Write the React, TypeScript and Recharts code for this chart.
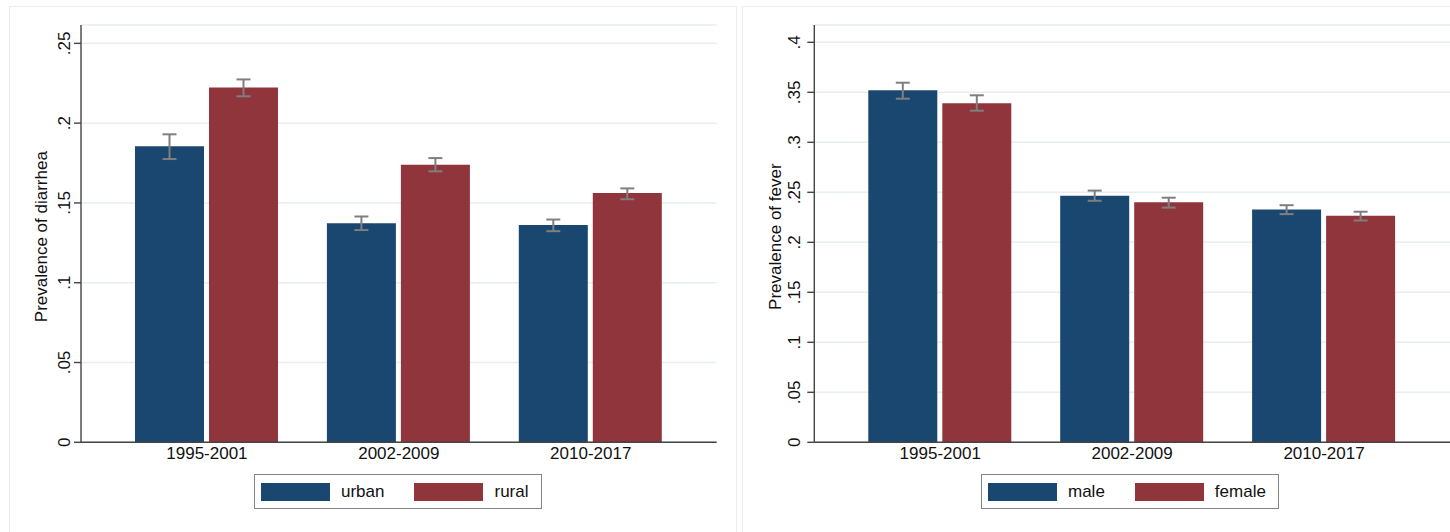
import { BarChart, Bar, XAxis, YAxis, CartesianGrid, ErrorBar, Legend } from "recharts";

const FONT = '"Liberation Sans", Arial, Helvetica, sans-serif';
const NAVY = "#1a476f";
const MAROON = "#90353b";
const AXIS = "#444";
const GRID = "#e6eef0";

const periods = ["1995-2001", "2002-2009", "2010-2017"];

// diarrhea by residence (mean and 95% CI)
const urban = [0.1855, 0.1372, 0.1362];
const urbanLo = [0.1775, 0.133, 0.1323];
const urbanHi = [0.193, 0.1415, 0.1396];
const rural = [0.2224, 0.174, 0.1562];
const ruralLo = [0.2168, 0.1698, 0.1523];
const ruralHi = [0.2274, 0.1781, 0.1591];

// fever by sex
const male = [0.352, 0.2466, 0.2327];
const maleLo = [0.3436, 0.2415, 0.2282];
const maleHi = [0.3596, 0.2517, 0.2371];
const female = [0.339, 0.2401, 0.2265];
const femaleLo = [0.3316, 0.2347, 0.2218];
const femaleHi = [0.347, 0.2446, 0.2306];

const diarrheaTicks = [0, 0.05, 0.1, 0.15, 0.2, 0.25];
const feverTicks = [0, 0.05, 0.1, 0.15, 0.2, 0.25, 0.3, 0.35, 0.4];

function buildRows(a: number[], aLo: number[], aHi: number[], b: number[], bLo: number[], bHi: number[]) {
  return periods.map((period, i) => ({
    period,
    a: a[i],
    aErr: [a[i] - aLo[i], aHi[i] - a[i]],
    b: b[i],
    bErr: [b[i] - bLo[i], bHi[i] - b[i]],
  }));
}

const diarrheaData = buildRows(urban, urbanLo, urbanHi, rural, ruralLo, ruralHi);
const feverData = buildRows(male, maleLo, maleHi, female, femaleLo, femaleHi);

// stata style labels: ".25" instead of "0.25"
const fmt = (v: number) => String(v).replace(/^0\./, ".");

function YTick(props: any) {
  const { x, y, payload } = props;
  return (
    <text x={x} y={y} transform={`rotate(-90, ${x}, ${y})`} textAnchor="middle" fill="#111" fontSize={17}>
      {fmt(payload.value)}
    </text>
  );
}

function LegendBox(props: any) {
  const order: string[] = props.order || [];
  // keep series order instead of the default alphabetical sort
  const items = [...(props.payload || [])].sort(
    (a: any, b: any) => order.indexOf(a.value) - order.indexOf(b.value)
  );
  return (
    <div
      style={{
        display: "flex",
        alignItems: "center",
        border: "1.5px solid #858585",
        height: 33,
        padding: "0 12px 0 6px",
        background: "#fff",
        fontSize: 17,
        color: "#111",
        whiteSpace: "nowrap",
      }}
    >
      {items.map((it: any, i: number) => (
        <div key={it.value} style={{ display: "flex", alignItems: "center", marginLeft: i > 0 ? 30 : 0 }}>
          <div style={{ width: 69, height: 18, background: it.color, marginRight: 11 }} />
          <span>{it.value}</span>
        </div>
      ))}
    </div>
  );
}

interface PanelProps {
  data: any[];
  names: string[];
  ticks: number[];
  domainMax: number;
  title: string;
  width: number;
  yAxisWidth: number;
  tickMargin: number;
  marginRight: number;
  legendLeft: number;
}

function Panel(p: PanelProps) {
  return (
    <BarChart
      width={p.width}
      height={532}
      data={p.data}
      margin={{ top: 25, right: p.marginRight, bottom: 59.7, left: 0 }}
      barCategoryGap={24}
      barGap={5}
    >
      <CartesianGrid vertical={false} stroke={GRID} strokeWidth={1.5} />
      <XAxis
        dataKey="period"
        height={30}
        padding={{ left: 30, right: 30 }}
        interval={0}
        tickLine={false}
        tickSize={0}
        tickMargin={5}
        axisLine={{ stroke: AXIS, strokeWidth: 1.4 }}
        tick={{ fill: "#111", fontSize: 17 }}
      />
      <YAxis
        width={p.yAxisWidth}
        domain={[0, p.domainMax]}
        ticks={p.ticks}
        interval={0}
        allowDataOverflow
        tickSize={7}
        tickMargin={p.tickMargin}
        tickLine={{ stroke: AXIS, strokeWidth: 1.4 }}
        axisLine={{ stroke: AXIS, strokeWidth: 1.4 }}
        tick={<YTick />}
        label={{ value: p.title, angle: -90, position: "center", dy: 3, fill: "#111", fontSize: 17 }}
      />
      <Legend
        layout="horizontal"
        verticalAlign="middle"
        align="center"
        wrapperStyle={{ left: p.legendLeft, top: 474, width: "auto", height: "auto" }}
        content={<LegendBox order={p.names} />}
      />
      <Bar dataKey="a" name={p.names[0]} fill={NAVY} isAnimationActive={false}>
        <ErrorBar dataKey="aErr" direction="y" width={7} stroke="#7f7f7f" strokeWidth={2} isAnimationActive={false} />
      </Bar>
      <Bar dataKey="b" name={p.names[1]} fill={MAROON} isAnimationActive={false}>
        <ErrorBar dataKey="bErr" direction="y" width={7} stroke="#7f7f7f" strokeWidth={2} isAnimationActive={false} />
      </Bar>
    </BarChart>
  );
}

export default function App() {
  return (
    <div
      style={{
        position: "absolute",
        left: 0,
        top: 0,
        width: 1450,
        height: 532,
        overflow: "hidden",
        background: "#fff",
        fontFamily: FONT,
      }}
    >
      {/* faint panel frames */}
      <div style={{ position: "absolute", left: 9, top: 6, width: 726, height: 600, border: "1px solid #e9edf0" }} />
      <div style={{ position: "absolute", left: 742, top: 6, width: 800, height: 600, border: "1px solid #e9edf0" }} />

      <div style={{ position: "absolute", left: 0, top: 0 }}>
        <Panel
          data={diarrheaData}
          names={["urban", "rural"]}
          ticks={diarrheaTicks}
          domainMax={0.2615}
          title="Prevalence of diarrhea"
          width={736}
          yAxisWidth={81}
          tickMargin={4}
          marginRight={19.3}
          legendLeft={254}
        />
      </div>
      <div style={{ position: "absolute", left: 736, top: 0 }}>
        <Panel
          data={feverData}
          names={["male", "female"]}
          ticks={feverTicks}
          domainMax={0.4173}
          title="Prevalence of fever"
          width={714}
          yAxisWidth={78.3}
          tickMargin={7.5}
          marginRight={0}
          legendLeft={245}
        />
      </div>
    </div>
  );
}
